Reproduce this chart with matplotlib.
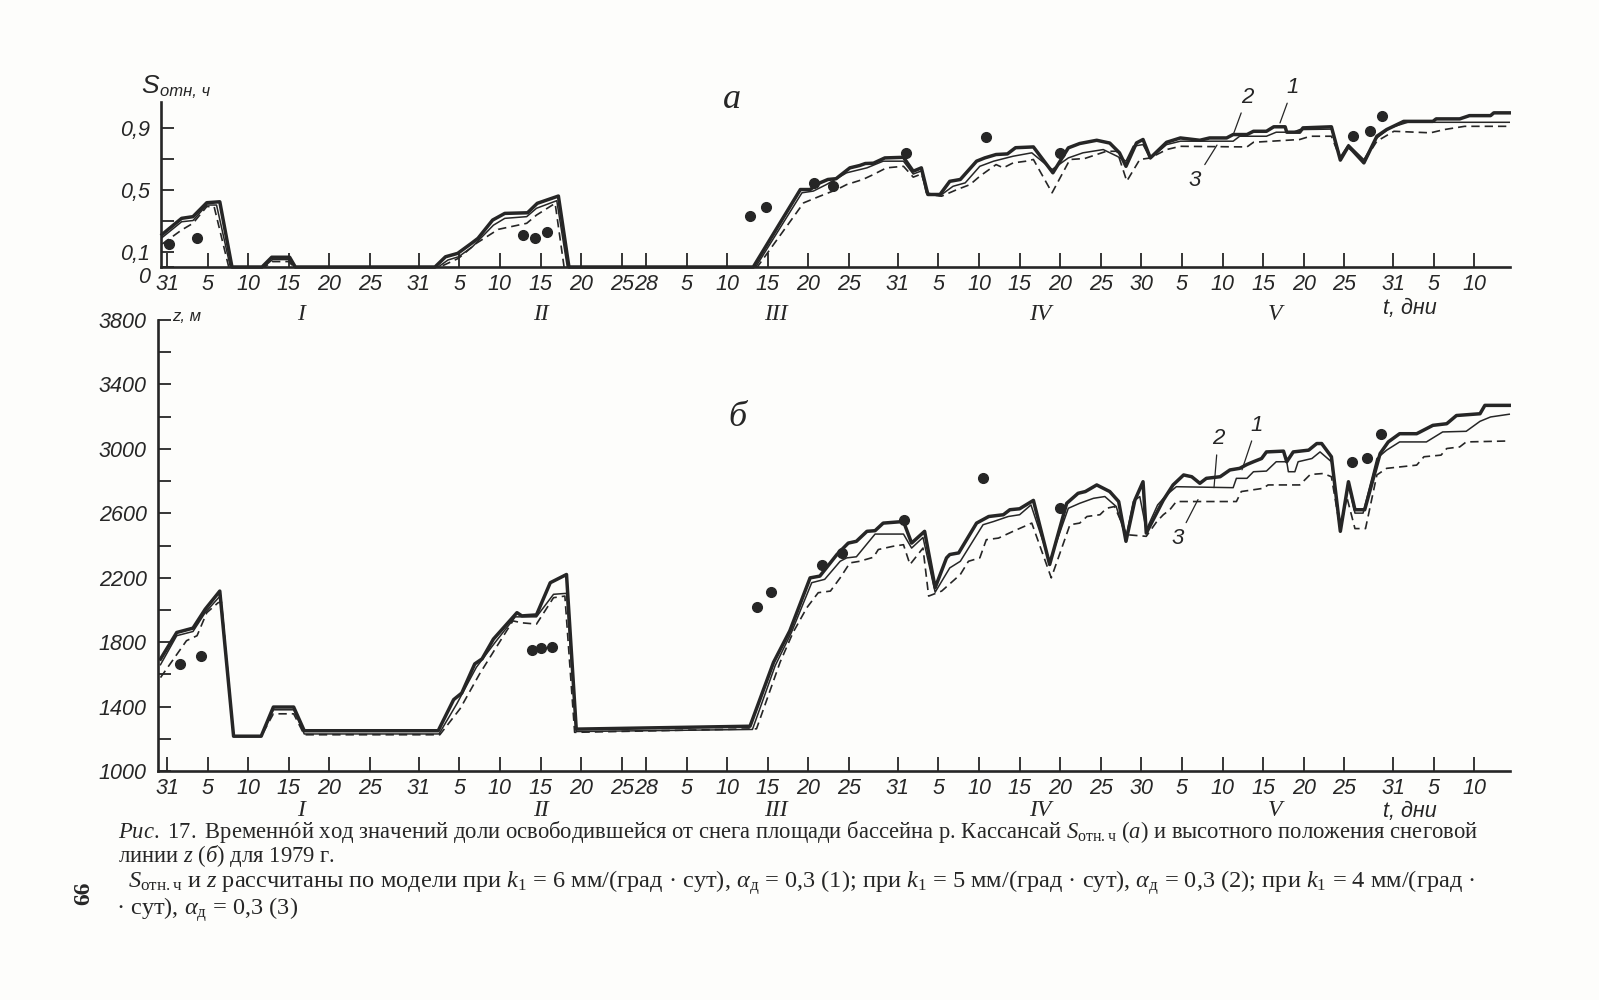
#!/usr/bin/env python
# -*- coding: utf-8 -*-
import matplotlib
matplotlib.use('Agg')
import matplotlib.pyplot as plt

# days counted from 31 Dec 1978 (day 0)
tick_days = [0, 5, 10, 15, 20, 25, 31, 36, 41, 46, 51, 56, 59, 64, 69, 74, 79, 84, 90,
             95, 100, 105, 110, 115, 120, 125, 130, 135, 140, 145, 151, 156, 161]
tick_labels = ['31', '5', '10', '15', '20', '25', '31', '5', '10', '15', '20', '25', '28',
               '5', '10', '15', '20', '25', '31', '5', '10', '15', '20', '25', '30',
               '5', '10', '15', '20', '25', '31', '5', '10']
month_days = [16.5, 46, 75, 107.5, 136.5]
month_names = ['I', 'II', 'III', 'IV', 'V']

# (a) share of snow-free area, curves 1, 2, 3
a1_t = [-0.6, 1.8, 3.2, 4.9, 6.5, 8.0, 11.7, 12.9, 15.1, 15.8, 33.0, 34.3, 35.8, 37.5, 38.3,
        40.1, 41.6, 44.4, 45.6, 48.2, 49.5, 72.2, 78.0, 79.2, 80.4, 81.4, 82.4, 84.1, 85.3,
        86.0, 87.0, 88.4, 90.7, 91.9, 92.9, 93.7, 95.2, 96.4, 97.7, 99.7, 100.7, 102.1,
        103.5, 104.5, 106.7, 109.1, 111.0, 112.4, 114.5, 116.1, 117.3, 118.1, 119.4, 120.2,
        121.1, 123.1, 124.8, 127.2, 128.4, 130.5, 131.3, 133.0, 133.8, 135.4, 136.3, 137.7,
        137.9, 139.5, 139.9, 143.4, 144.5, 145.5, 147.4, 149.0, 150.2, 152.3, 155.9, 156.3,
        159.2, 160.4, 163.0, 163.4, 165.3]
a1_s = [0.21, 0.314, 0.325, 0.415, 0.421, 0, 0, 0.063, 0.063, 0, 0, 0.066, 0.088, 0.153,
        0.185, 0.303, 0.346, 0.35, 0.411, 0.458, 0, 0, 0.5, 0.50, 0.543, 0.565, 0.57, 0.64,
        0.655, 0.668, 0.67, 0.704, 0.708, 0.618, 0.64, 0.468, 0.468, 0.553, 0.565, 0.683,
        0.704, 0.726, 0.73, 0.77, 0.775, 0.608, 0.769, 0.797, 0.818, 0.80, 0.737, 0.65,
        0.801, 0.823, 0.704, 0.805, 0.833, 0.818, 0.833, 0.833, 0.855, 0.855, 0.876, 0.876,
        0.905, 0.905, 0.87, 0.87, 0.898, 0.905, 0.69, 0.78, 0.672, 0.844, 0.887, 0.94, 0.94,
        0.956, 0.956, 0.977, 0.977, 0.995, 0.995]

a2_t = [-0.6, 1.8, 3.2, 4.9, 6.1, 7.8, 11.9, 13.0, 15.0, 15.7, 33.4, 34.6, 35.9, 37.6, 40.2,
        41.6, 44.3, 45.5, 48.0, 49.3, 72.5, 78.2, 79.6, 81.2, 83.7, 86.2, 88.2, 90.7, 91.9,
        92.9, 93.5, 95.2, 96.8, 98.3, 100.1, 101.8, 104.2, 106.5, 109.0, 111.0, 112.8, 115.3,
        117.0, 118.1, 119.0, 120.2, 121.1, 123.1, 124.8, 131.3, 132.1, 135.4, 136.6, 138.7,
        139.5, 143.4, 144.5, 145.5, 147.4, 149.0, 150.6, 152.8, 165.3]
a2_s = [0.19, 0.292, 0.30, 0.40, 0.40, 0, 0, 0.048, 0.048, 0, 0, 0.045, 0.066, 0.13, 0.27,
        0.314, 0.325, 0.379, 0.428, 0, 0, 0.479, 0.49, 0.532, 0.608, 0.64, 0.683, 0.683,
        0.60, 0.62, 0.479, 0.46, 0.521, 0.543, 0.65, 0.683, 0.715, 0.737, 0.629, 0.704,
        0.737, 0.758, 0.715, 0.683, 0.78, 0.79, 0.70, 0.79, 0.812, 0.812, 0.844, 0.844,
        0.87, 0.87, 0.887, 0.89, 0.71, 0.79, 0.693, 0.833, 0.898, 0.934, 0.934]

a3_t = [-0.6, 1.8, 3.2, 4.9, 5.8, 7.6, 12.0, 13.0, 15.0, 15.6, 33.6, 35.9, 38.1, 40.8, 44.3,
        45.5, 47.8, 48.9, 72.7, 78.4, 80.4, 82.5, 83.7, 85.7, 87.0, 88.6, 90.7, 91.9, 92.9,
        93.8, 95.4, 97.3, 98.9, 100.1, 102.1, 103.0, 104.2, 105.8, 106.7, 109.0, 111.2,
        113.0, 115.7, 117.0, 118.2, 119.8, 121.1, 123.1, 124.8, 133.0, 133.8, 139.5, 140.8,
        143.4, 144.5, 145.5, 147.4, 149.0, 151.1, 155.6, 157.3, 159.8, 165.3]
a3_s = [0.148, 0.239, 0.282, 0.39, 0.39, 0, 0, 0.035, 0.035, 0, 0, 0.056, 0.153, 0.243,
        0.282, 0.335, 0.411, 0, 0, 0.414, 0.457, 0.5, 0.532, 0.565, 0.597, 0.64, 0.65, 0.58,
        0.60, 0.468, 0.457, 0.5, 0.532, 0.586, 0.661, 0.64, 0.672, 0.683, 0.694, 0.479,
        0.694, 0.70, 0.747, 0.747, 0.554, 0.694, 0.704, 0.758, 0.779, 0.775, 0.805, 0.823,
        0.844, 0.844, 0.70, 0.77, 0.68, 0.812, 0.876, 0.866, 0.887, 0.908, 0.908]

ad_t = [0.3, 3.7, 43.9, 45.3, 46.8, 71.8, 73.8, 79.7, 82.0, 91.0, 100.9, 110.0, 146.1,
        148.2, 149.6]
ad_s = [0.148, 0.19, 0.206, 0.19, 0.224, 0.332, 0.388, 0.539, 0.52, 0.737, 0.837, 0.737,
        0.844, 0.88, 0.973]

# (b) snow line height z, m
b1_t = [-0.8, 1.2, 3.2, 4.7, 6.5, 8.2, 11.6, 13.1, 15.6, 16.9, 33.4, 35.3, 36.3, 37.9, 38.8,
        40.2, 43.1, 43.7, 45.5, 47.2, 49.2, 50.4, 71.8, 74.7, 76.7, 79.2, 80.4, 82.5, 83.9,
        84.9, 86.2, 87.2, 88.2, 90.7, 91.7, 93.3, 94.6, 96.0, 96.4, 97.5, 99.7, 101.2, 103.0,
        103.8, 105.0, 106.7, 108.7, 110.8, 112.2, 113.1, 114.5, 116.1, 117.2, 118.1, 119.2,
        120.2, 120.6, 122.7, 123.9, 125.2, 126.2, 127.2, 128.0, 129.7, 130.9, 132.1, 133.0,
        133.8, 134.8, 135.4, 137.5, 137.9, 138.7, 140.6, 141.6, 142.2, 143.4, 144.5, 145.5,
        146.3, 147.5, 149.4, 150.4, 151.8, 153.9, 155.9, 157.6, 158.8, 161.7, 162.3, 165.3]
b1_z = [1695, 1860, 1887, 2004, 2117, 1216, 1216, 1397, 1397, 1250, 1250, 1443, 1484, 1665,
        1696, 1819, 1983, 1963, 1969, 2169, 2220, 1260, 1278, 1675, 1870, 2199, 2210, 2344,
        2415, 2426, 2488, 2492, 2539, 2549, 2415, 2488, 2138, 2323, 2344, 2354, 2539, 2580,
        2591, 2622, 2628, 2680, 2282, 2662, 2724, 2735, 2776, 2735, 2673, 2426, 2682, 2796,
        2477, 2682, 2776, 2838, 2827, 2786, 2817, 2827, 2869, 2879, 2903, 2920, 2940, 2981,
        2986, 2920, 2981, 2992, 3033, 3033, 2951, 2488, 2796, 2622, 2622, 2971, 3043, 3094,
        3094, 3146, 3156, 3207, 3218, 3270, 3270]

b2_t = [-0.8, 1.2, 3.2, 4.7, 6.6, 8.2, 11.6, 13.1, 15.6, 16.9, 33.5, 35.7, 38.1, 40.4, 42.9,
        45.5, 47.6, 49.2, 50.4, 72.1, 74.9, 76.9, 79.4, 81.0, 82.9, 83.7, 84.9, 87.2, 90.7,
        91.7, 93.1, 94.6, 96.4, 97.7, 100.5, 101.8, 103.6, 105.0, 106.4, 108.7, 111.0, 112.4,
        114.1, 115.5, 116.9, 118.1, 119.0, 119.8, 120.6, 122.0, 123.1, 124.3, 131.3, 131.7,
        133.0, 133.8, 135.4, 136.6, 137.9, 138.1, 138.9, 139.3, 141.0, 142.0, 143.4, 144.5,
        145.5, 146.3, 147.3, 149.0, 150.2, 151.8, 155.1, 157.1, 160.0, 161.7, 163.0, 165.3]
b2_z = [1660, 1840, 1866, 1983, 2090, 1216, 1216, 1380, 1380, 1230, 1230, 1418, 1644, 1798,
        1957, 1957, 2097, 2103, 1245, 1258, 1654, 1860, 2169, 2190, 2302, 2323, 2330, 2471,
        2471, 2384, 2450, 2110, 2261, 2302, 2529, 2549, 2580, 2591, 2652, 2300, 2631, 2662,
        2693, 2704, 2642, 2447, 2673, 2704, 2497, 2652, 2714, 2765, 2759, 2817, 2817, 2858,
        2862, 2920, 2920, 2858, 2858, 2920, 2940, 2981, 2920, 2508, 2776, 2601, 2601, 2940,
        2992, 3043, 3043, 3105, 3109, 3171, 3198, 3215]

b3_t = [-0.8, 2.4, 3.7, 4.9, 6.3, 6.7, 8.2, 11.6, 13.1, 15.6, 16.9, 33.6, 36.1, 38.5, 40.6,
        42.6, 43.7, 45.5, 47.6, 49.0, 50.2, 72.6, 75.5, 77.1, 78.8, 80.2, 81.7, 82.9, 84.1,
        85.3, 87.0, 87.6, 89.4, 90.7, 91.5, 93.1, 93.8, 95.4, 97.7, 98.7, 100.1, 100.9, 102.4,
        104.2, 106.5, 108.9, 111.2, 112.4, 113.3, 114.9, 115.7, 116.7, 118.2, 120.6, 121.9,
        122.7, 123.5, 124.3, 131.7, 132.3, 135.0, 135.6, 139.5, 140.8, 142.4, 143.4, 144.5,
        145.3, 146.3, 147.6, 149.0, 150.2, 153.9, 154.8, 156.9, 157.6, 159.2, 160.0, 165.3]
b3_z = [1580, 1809, 1840, 1983, 2045, 2050, 1216, 1216, 1355, 1355, 1225, 1225, 1387, 1603,
        1772, 1932, 1920, 1912, 2076, 2086, 1240, 1262, 1675, 1860, 2014, 2107, 2117, 2199,
        2292, 2302, 2327, 2375, 2395, 2405, 2282, 2384, 2086, 2117, 2220, 2302, 2323, 2436,
        2446, 2488, 2539, 2199, 2529, 2539, 2580, 2591, 2631, 2642, 2467, 2457, 2549, 2591,
        2622, 2673, 2673, 2735, 2755, 2776, 2776, 2841, 2847, 2827, 2498, 2700, 2505, 2505,
        2838, 2879, 2899, 2951, 2961, 3002, 3012, 3043, 3049]

bd_t = [1.6, 4.2, 44.9, 46.1, 47.4, 72.7, 74.4, 80.7, 83.1, 90.8, 100.5, 110.0, 145.9,
        147.8, 149.5]
bd_z = [1665, 1712, 1751, 1761, 1772, 2019, 2113, 2276, 2354, 2560, 2817, 2631, 2920, 2944,
        3094]

W, H = 1599, 1000
INK = '#262626'
DRAW = ['Liberation Sans', 'DejaVu Sans']
SERIF = ['Liberation Serif', 'DejaVu Serif']
TICK_FS = 15.5

plt.rcParams['mathtext.fontset'] = 'custom'
plt.rcParams['mathtext.rm'] = 'Liberation Serif'
plt.rcParams['mathtext.it'] = 'Liberation Serif:italic'
plt.rcParams['mathtext.bf'] = 'Liberation Serif:bold'


def fx(px):
    return px / W


def fy(py):
    return 1 - py / H


def day(px):
    ## pixel column of the original drawing -> day number
    return (px - 167) / 8.12


def draw_panel(ax, lines, dots, roman_y, tdni_y):
    for sp in ['top', 'right']:
        ax.spines[sp].set_visible(False)
    for sp in ['left', 'bottom']:
        ax.spines[sp].set_linewidth(1.9)
        ax.spines[sp].set_color(INK)
    ax.patch.set_alpha(0)

    (t1, v1), (t2, v2), (t3, v3) = lines
    ax.plot(t1, v1, color=INK, lw=2.5, clip_on=False, zorder=4)
    ax.plot(t2, v2, color=INK, lw=1.1, clip_on=False, zorder=4)
    ax.plot(t3, v3, color=INK, lw=1.2, dashes=(5, 3), clip_on=False, zorder=4)
    ax.plot(dots[0], dots[1], 'o', ms=7, color=INK, clip_on=False, zorder=5)

    ax.set_xticks(tick_days, tick_labels, fontsize=TICK_FS, fontstyle='italic', family=DRAW,
                  color=INK)
    ax.tick_params(axis='x', direction='in', length=10, width=1.3, pad=5, color=INK)
    ax.tick_params(axis='y', direction='in', length=9, width=1.3, pad=8, color=INK)

    tr = ax.get_xaxis_transform()
    for d, name in zip(month_days, month_names):
        ax.text(d, roman_y, name, transform=tr, ha='center', va='center', fontsize=17,
                fontstyle='italic', family=SERIF, color=INK)
    ax.text(day(1410), tdni_y, 't, дни', transform=tr, ha='center', va='center',
            fontsize=TICK_FS, fontstyle='italic', family=DRAW, color=INK)


fig = plt.figure(figsize=(W / 100, H / 100), dpi=100)
fig.patch.set_facecolor('#fdfdfb')

# panel a
ax_a = fig.add_axes([fx(161), fy(267), fx(1510) - fx(161), (267 - 102) / H])
ax_a.set_xlim(day(161), day(1510))
ax_a.set_ylim(0, 1.065)
draw_panel(ax_a, [(a1_t, a1_s), (a2_t, a2_s), (a3_t, a3_s)], (ad_t, ad_s), -0.29, -0.25)
ax_a.set_yticks([0, 0.1, 0.3, 0.5, 0.7, 0.9], ['0', '0,1', '', '0,5', '', '0,9'],
                fontsize=TICK_FS, fontstyle='italic', family=DRAW, color=INK)
ax_a.get_yticklabels()[0].set_va('top')

# panel b
ax_b = fig.add_axes([fx(158), fy(771), fx(1510) - fx(158), (771 - 320) / H])
ax_b.set_xlim(day(158), day(1510))
ax_b.set_ylim(1000, 3800)
draw_panel(ax_b, [(b1_t, b1_z), (b2_t, b2_z), (b3_t, b3_z)], (bd_t, bd_z), -0.088, -0.09)
zt = list(range(1000, 3801, 200))
ax_b.set_yticks(zt, [str(z) if (z - 1000) % 400 == 0 else '' for z in zt],
                fontsize=TICK_FS, fontstyle='italic', family=DRAW, color=INK)

# curve numbers with leader lines
lead = dict(arrowstyle='-', color=INK, lw=0.9, shrinkA=2, shrinkB=0)
txt = dict(fontsize=16, fontstyle='italic', family=DRAW, color=INK, ha='center',
           va='center', annotation_clip=False)
ax_a.annotate('2', xy=(day(1233), 0.85), xytext=(day(1247), 1.097), arrowprops=lead, **txt)
ax_a.annotate('1', xy=(day(1280), 0.93), xytext=(day(1293), 1.16), arrowprops=lead, **txt)
ax_a.annotate('3', xy=(day(1217), 0.787), xytext=(day(1195), 0.56), arrowprops=lead, **txt)
ax_b.annotate('2', xy=(day(1214), 2759), xytext=(day(1218), 3062), arrowprops=lead, **txt)
ax_b.annotate('1', xy=(day(1242), 2870), xytext=(day(1257), 3148), arrowprops=lead, **txt)
ax_b.annotate('3', xy=(day(1198), 2685), xytext=(day(1178), 2444), arrowprops=lead, **txt)

# axis titles and panel letters
fig.text(fx(150), fy(86), 'S', fontsize=19, fontstyle='italic', family=DRAW, color=INK,
         ha='center', va='center')
fig.text(fx(160), fy(92), 'отн, ч', fontsize=12, fontstyle='italic', family=DRAW,
         color=INK, ha='left', va='center')
fig.text(fx(172), fy(316), 'z, м', fontsize=12, fontstyle='italic', family=DRAW,
         color=INK, ha='left', va='center')
fig.text(fx(732), fy(100), 'а', fontsize=26, fontstyle='italic', family=SERIF, color=INK,
         ha='center', va='center')
fig.text(fx(737), fy(418), 'б', fontsize=26, fontstyle='italic', family=SERIF, color=INK,
         ha='center', va='center')

# caption
cap = [
    ('$\\mathit{Рис.\\ 17.}$ Временнóй ход значений доли освободившейся от снега '
     'площади бассейна р. Кассансай $\\mathit{S}_{\\mathrm{отн.ч}}$ ($\\mathit{а}$) и '
     'высотного положения снеговой', 118, 832, 1483),
    ('линии $\\mathit{z}$ ($\\mathit{б}$) для 1979 г.', 118, 856, None),
    ('$\\mathit{S}_{\\mathrm{отн.ч}}$ и $\\mathit{z}$ рассчитаны по модели при '
     '$\\mathit{k}_1$ = 6 мм/(град · сут), $\\alpha_{\\mathrm{д}}$ = 0,3 ($\\mathit{1}$); '
     'при $\\mathit{k}_1$ = 5 мм/(град · сут), $\\alpha_{\\mathrm{д}}$ = 0,3 '
     '($\\mathit{2}$); при $\\mathit{k}_1$ = 4 мм/(град ·', 128, 883, 1483),
    ('· сут), $\\alpha_{\\mathrm{д}}$ = 0,3 ($\\mathit{3}$)', 116, 910, None),
]
cap_txt = []
for s, x0, y0, x1 in cap:
    t = fig.text(fx(x0), fy(y0), s, fontsize=14, family=SERIF, color=INK,
                 ha='left', va='center')
    cap_txt.append((t, x0, x1))

fig.canvas.draw()
r = fig.canvas.get_renderer()
for t, x0, x1 in cap_txt:
    if x1 is not None:
        bb = t.get_window_extent(r)
        t.set_fontsize(t.get_fontsize() * (x1 - x0) / bb.width)
cap_txt[1][0].set_fontsize(cap_txt[0][0].get_fontsize())
cap_txt[3][0].set_fontsize(cap_txt[2][0].get_fontsize())

fig.text(fx(84), fy(893), '66', rotation=90, fontsize=17, family=SERIF, fontweight='bold',
         color=INK, ha='center', va='center')

fig.savefig('out.png', dpi=100, facecolor=fig.get_facecolor())
